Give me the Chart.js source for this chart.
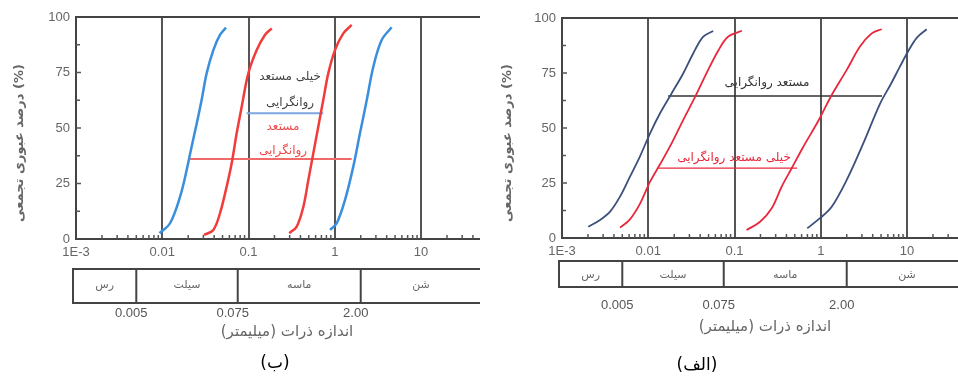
<!DOCTYPE html>
<html>
<head>
<meta charset="utf-8">
<script src="https://cdn.jsdelivr.net/npm/chart.js@4.4.1/dist/chart.umd.min.js"></script>
<style>
  body { margin: 0; background: #fff; }
  #wrap { position: relative; width: 958px; height: 376px; overflow: hidden; }
  #left { position: absolute; left: 0; top: 0; }
  #right { position: absolute; left: 480px; top: 0; }
</style>
</head>
<body>
<div id="wrap">
  <canvas id="left" width="480" height="376"></canvas>
  <canvas id="right" width="478" height="376"></canvas>
</div>
<script>
// axes, shared by both panels
const xTicks = [0.001, 0.01, 0.1, 1, 10];
const xTickLabels = ['1E-3', '0.01', '0.1', '1', '10'];
const yTicks = [0, 25, 50, 75, 100];
const soilNames = ['رس', 'سیلت', 'ماسه', 'شن'];
const soilBounds = [0.005, 0.075, 2];
const soilBoundLabels = ['0.005', '0.075', '2.00'];
const xTitle = 'اندازه ذرات (میلیمتر)';
const yTitle = 'درصد عبوری تجمعی (%)';

// panel (ب)
const bBlueASize = [0.0093, 0.0123, 0.0161, 0.0192, 0.0219, 0.0251, 0.0286, 0.0327, 0.0391, 0.0467, 0.0548];
const bBlueAPct  = [2.6, 7.1, 19.1, 31.1, 41.6, 52, 62.6, 74.6, 85.1, 91.9, 95.2];
const bRedASize  = [0.0305, 0.0391, 0.0467, 0.0558, 0.0638, 0.0729, 0.0834, 0.0995, 0.1245, 0.155, 0.186];
const bRedAPct   = [1.8, 4.1, 11.6, 23.6, 34.1, 47.6, 59.6, 74.6, 85.1, 91.9, 94.9];
const bRedBSize  = [0.297, 0.362, 0.433, 0.494, 0.564, 0.644, 0.736, 0.841, 1.006, 1.257, 1.57];
const bRedBPct   = [2.6, 5.6, 14.6, 26.6, 38.6, 50.6, 62.6, 74.6, 85.1, 92.6, 96.4];
const bBlueBSize = [0.881, 1.054, 1.315, 1.64, 1.96, 2.35, 2.80, 3.50, 4.57];
const bBlueBPct  = [4.1, 7.1, 17.6, 32.6, 47.6, 62.6, 77.6, 89.6, 95.4];
const bBlueBand  = [0.095, 0.736];
const bBlueBandPct = 56.6;
const bRedBand   = [0.021, 1.57];
const bRedBandPct = 36;

// panel (الف)
const aNavyASize = [0.00202, 0.00276, 0.00361, 0.0047, 0.00614, 0.0080, 0.0105, 0.0137, 0.0187, 0.0255, 0.0333, 0.0434, 0.0566];
const aNavyAPct  = [5.1, 8.2, 12.0, 18.8, 27.9, 37.0, 47.6, 56.7, 65.8, 74.9, 84.0, 91.5, 94.1];
const aRedASize  = [0.0047, 0.00614, 0.0080, 0.0105, 0.0137, 0.0189, 0.0253, 0.0348, 0.0468, 0.0644, 0.0841, 0.122];
const aRedAPct   = [4.7, 8.5, 15.5, 25.6, 33.5, 43.5, 53.5, 64, 74.5, 85, 91.5, 94.2];
const aRedBSize  = [0.138, 0.198, 0.270, 0.352, 0.460, 0.628, 0.938, 1.34, 2.0, 2.85, 3.90, 5.09];
const aRedBPct   = [3.6, 7.4, 13.5, 23.3, 31.7, 41.5, 53.3, 65, 76.4, 87, 93, 94.9];
const aNavyBSize = [0.698, 0.979, 1.34, 2.0, 3.11, 4.86, 6.5, 8.30, 10.35, 12.97, 16.9];
const aNavyBPct  = [4.4, 9.0, 14.2, 26.4, 43, 61, 70, 78, 85, 91, 94.9];
const aBlackBand = [0.017, 5.13];
const aBlackBandPct = 64.5;
const aRedBand   = [0.013, 0.531];
const aRedBandPct = 31.8;

const numFont = "'Liberation Sans', Arial, sans-serif";
const faFont = "'DejaVu Sans', sans-serif";

function pts(xs, ys) {
  return xs.map((x, i) => ({ x: x, y: ys[i] }));
}
function curve(xs, ys, color, width) {
  return { data: pts(xs, ys), borderColor: color, borderWidth: width, showLine: true,
           pointRadius: 0, tension: 0.35, fill: false };
}
function band(xs, pct, color, width) {
  return { data: pts(xs, [pct, pct]), borderColor: color, borderWidth: width, showLine: true,
           pointRadius: 0, fill: false };
}

function line(ctx, x0, y0, x1, y1) {
  ctx.beginPath(); ctx.moveTo(x0, y0); ctx.lineTo(x1, y1); ctx.stroke();
}

const panelPlugin = {
  id: 'panel',
  afterDraw(chart, args, o) {
    const ctx = chart.ctx, a = chart.chartArea, xs = chart.scales.x, ys = chart.scales.y;
    ctx.save();
    ctx.strokeStyle = '#444';
    ctx.lineWidth = 2;
    line(ctx, a.left - 1, a.top, a.right, a.top);

    // inner minor ticks
    ctx.lineWidth = 1.5;
    ctx.strokeStyle = '#555';
    for (let e = -3; e <= 1; e++) {
      for (let k = 2; k < 10; k++) {
        const v = k * Math.pow(10, e);
        if (v > xs.max) break;
        const px = xs.getPixelForValue(v);
        line(ctx, px, a.bottom, px, a.bottom - 4);
      }
    }
    [25, 50, 75].forEach(v => { const py = ys.getPixelForValue(v); line(ctx, a.left, py, a.left + 5, py); });
    [12.5, 37.5, 62.5, 87.5].forEach(v => { const py = ys.getPixelForValue(v); line(ctx, a.left, py, a.left + 4, py); });

    // notes on the plot
    ctx.textAlign = 'center';
    ctx.textBaseline = 'middle';
    ctx.direction = 'rtl';
    o.notes.forEach(n => {
      ctx.fillStyle = n.color;
      ctx.font = n.size + 'px ' + faFont;
      ctx.fillText(n.text, xs.getPixelForValue(n.x), ys.getPixelForValue(n.y));
    });

    // soil classes strip
    ctx.strokeStyle = '#444';
    ctx.lineWidth = 2;
    const bx0 = a.left - 3, bx1 = chart.width + 20;
    ctx.strokeRect(bx0, o.boxTop, bx1 - bx0, o.boxBottom - o.boxTop);
    const divs = soilBounds.map(v => xs.getPixelForValue(v));
    divs.forEach(px => line(ctx, px, o.boxTop, px, o.boxBottom));
    const centers = [(bx0 + divs[0]) / 2, (divs[0] + divs[1]) / 2, (divs[1] + divs[2]) / 2, xs.getPixelForValue(10)];
    ctx.fillStyle = '#666';
    ctx.font = '11px ' + faFont;
    soilNames.forEach((s, i) => ctx.fillText(s, centers[i], o.soilY));

    ctx.direction = 'ltr';
    ctx.fillStyle = '#555';
    ctx.font = '13px ' + numFont;
    soilBoundLabels.forEach((s, i) => ctx.fillText(s, divs[i] - 5, o.boundY));

    ctx.direction = 'rtl';
    ctx.fillStyle = '#666';
    ctx.font = '15px ' + faFont;
    ctx.fillText(xTitle, o.xTitleX, o.xTitleY);

    ctx.fillStyle = '#000';
    ctx.font = '17px ' + faFont;
    ctx.fillText(o.panelLabel, o.panelX, o.panelY);

    // y title
    ctx.direction = 'ltr';
    ctx.translate(o.yTitleX, 143);
    ctx.rotate(-Math.PI / 2);
    ctx.fillStyle = '#666';
    ctx.font = 'bold 13px ' + faFont;
    ctx.fillText(yTitle, 0, 0);
    ctx.restore();
  }
};

function makeChart(id, datasets, lay) {
  return new Chart(document.getElementById(id), {
    type: 'scatter',
    data: { datasets: datasets },
    plugins: [panelPlugin],
    options: {
      responsive: false,
      animation: false,
      layout: { padding: { top: lay.top, left: 0, right: 0, bottom: 0 } },
      plugins: {
        legend: { display: false },
        tooltip: { enabled: false },
        panel: lay.panel
      },
      scales: {
        x: {
          type: 'logarithmic',
          min: 0.001,
          max: lay.xMax,
          afterBuildTicks: s => { s.ticks = xTicks.map(v => ({ value: v })); },
          afterFit: s => { s.height = 376 - lay.bottom; s.paddingLeft = 0; s.paddingRight = 0; },
          grid: { color: '#555', lineWidth: 2, drawTicks: false },
          border: { display: true, color: '#444', width: 2 },
          ticks: {
            autoSkip: false, maxRotation: 0, padding: 6, color: '#666',
            font: { family: numFont, size: 13 },
            callback: (v, i) => xTickLabels[i]
          }
        },
        y: {
          min: 0,
          max: 100,
          afterBuildTicks: s => { s.ticks = yTicks.map(v => ({ value: v })); },
          afterFit: s => { s.width = lay.left; s.paddingTop = 0; s.paddingBottom = 0; },
          grid: { display: false, drawTicks: false },
          border: { display: true, color: '#444', width: 2 },
          ticks: { padding: 6, color: '#666', font: { family: numFont, size: 13 } }
        }
      }
    }
  });
}

makeChart('left', [
  curve(bBlueASize, bBlueAPct, '#3a8fdc', 2.5),
  curve(bRedASize, bRedAPct, '#f23b3b', 2.5),
  curve(bRedBSize, bRedBPct, '#f23b3b', 2.5),
  curve(bBlueBSize, bBlueBPct, '#3a8fdc', 2.5),
  band(bBlueBand, bBlueBandPct, '#7ea6e0', 2),
  band(bRedBand, bRedBandPct, '#f06a6a', 2)
], {
  top: 17, bottom: 239, left: 76, xMax: 48.3,
  panel: {
    boxTop: 269, boxBottom: 303, soilY: 285, boundY: 313,
    xTitleX: 287, xTitleY: 332, panelLabel: '(ب)', panelX: 275, panelY: 364, yTitleX: 20,
    notes: [
      { text: 'خیلی مستعد', x: 0.303, y: 73, color: '#444', size: 12 },
      { text: 'روانگرایی', x: 0.303, y: 61.3, color: '#444', size: 12 },
      { text: 'مستعد', x: 0.251, y: 50.5, color: '#ef4a4a', size: 12 },
      { text: 'روانگرایی', x: 0.251, y: 39.5, color: '#ef4a4a', size: 12 }
    ]
  }
});

makeChart('right', [
  curve(aNavyASize, aNavyAPct, '#3d4f7c', 1.8),
  curve(aRedASize, aRedAPct, '#e8283c', 1.8),
  curve(aRedBSize, aRedBPct, '#e8283c', 1.8),
  curve(aNavyBSize, aNavyBPct, '#3d4f7c', 1.8),
  band(aBlackBand, aBlackBandPct, '#333', 1.5),
  band(aRedBand, aRedBandPct, '#e8283c', 1.3)
], {
  top: 18, bottom: 238, left: 82, xMax: 39,
  panel: {
    boxTop: 261, boxBottom: 287, soilY: 275, boundY: 305,
    xTitleX: 285, xTitleY: 327, panelLabel: '(الف)', panelX: 217, panelY: 366, yTitleX: 28,
    notes: [
      { text: 'مستعد روانگرایی', x: 0.238, y: 70.5, color: '#333', size: 12 },
      { text: 'خیلی مستعد روانگرایی', x: 0.0986, y: 36.4, color: '#e8283c', size: 12 }
    ]
  }
});
</script>
</body>
</html>
